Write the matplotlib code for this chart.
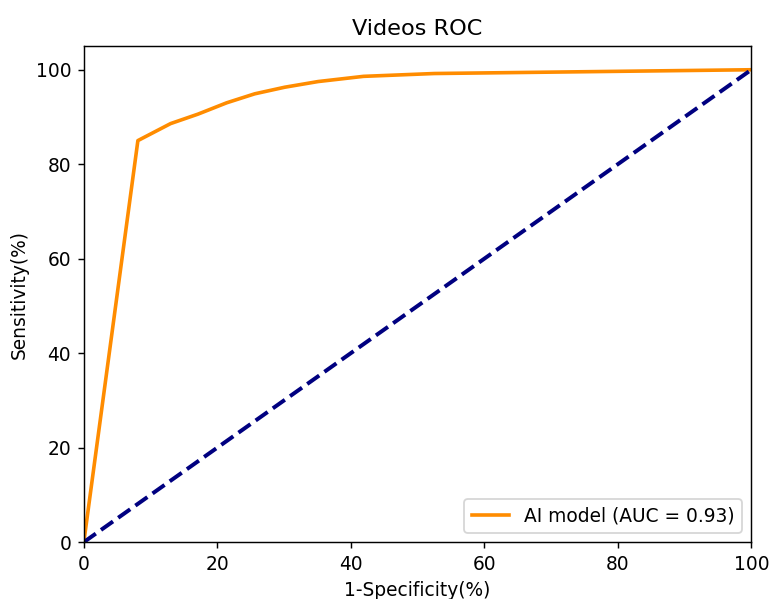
import matplotlib
matplotlib.use('Agg')
import matplotlib.pyplot as plt

# ROC points (percent)
fpr = [0, 8.1, 13.0, 17.1, 21.4, 25.6, 30.1, 35.1, 41.9, 52.5, 100]
tpr = [0, 85.0, 88.6, 90.6, 93.0, 94.9, 96.3, 97.5, 98.6, 99.2, 100]
auc_label = 'AI model (AUC = 0.93)'

plt.rcParams['font.size'] = 10.3
dpi = 130
fig = plt.figure(figsize=(769 / dpi, 599 / dpi), dpi=dpi)
ax = fig.add_axes([0.109, 0.095, 0.868, 0.828])
ax.plot(fpr, tpr, color='darkorange', lw=2, label=auc_label)
ax.plot([0, 100], [0, 100], color='navy', lw=2.2, linestyle='--')
ax.set_xlim([0, 100])
ax.set_ylim([0, 105])
ax.set_xlabel('1-Specificity(%)')
ax.set_ylabel('Sensitivity(%)')
ax.set_title('Videos ROC', fontsize=12.4)
ax.legend(loc='lower right')

fig.savefig('out.png', dpi=dpi)
